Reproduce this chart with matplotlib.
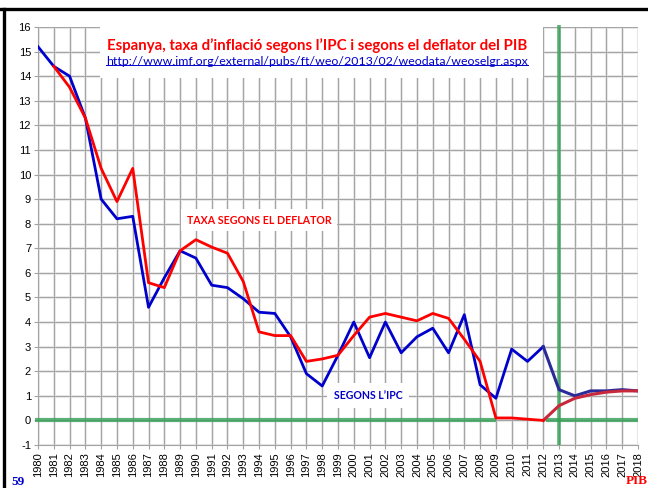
import matplotlib
matplotlib.use('Agg')
import matplotlib.pyplot as plt
from matplotlib.patches import Rectangle
from matplotlib.lines import Line2D

# inflation data
years = list(range(1980, 2019))
ipc = [15.2, 14.4, 14.0, 12.3, 9.0, 8.2, 8.3, 4.6, 5.8, 6.9,
       6.6, 5.5, 5.4, 4.95, 4.4, 4.35, 3.4, 1.9, 1.4, 2.65,
       4.0, 2.55, 4.0, 2.75, 3.4, 3.75, 2.75, 4.3, 1.45, 0.9,
       2.9, 2.4, 3.0, 1.25, 1.0, 1.2, 1.2, 1.25, 1.2]
defl_years = list(range(1981, 2019))
deflator = [14.4, 13.55, 12.3, 10.25, 8.9, 10.25, 5.6, 5.4, 6.9, 7.35,
            7.05, 6.8, 5.65, 3.6, 3.45, 3.45, 2.4, 2.5, 2.65, 3.45,
            4.2, 4.35, 4.2, 4.05, 4.35, 4.15, 3.3, 2.4, 0.1, 0.1,
            0.05, 0.0, 0.6, 0.9, 1.05, 1.15, 1.2, 1.2]
proj_start = 2012
y_ticks = list(range(-1, 17))

title = "Espanya, taxa d\u2019inflació segons l\u2019IPC i segons el deflator del PIB"
url = "http://www.imf.org/external/pubs/ft/weo/2013/02/weodata/weoselgr.aspx"

BLUE = '#0000cc'
RED = '#ff0000'
GREEN = '#34a055'
GRID = '#a3a3a3'

fig = plt.figure(figsize=(6.48, 4.88), dpi=100)
ax = fig.add_axes([38 / 648, 1 - 445 / 488, 600 / 648, 418 / 488])

ax.set_xlim(1980, 2018)
ax.set_ylim(-1, 16)

# soft grid band + thin darker grid line on top
ax.grid(True, color='#e8e8e8', lw=2.2, zorder=0)
ax.vlines(years, -1, 16, color=GRID, lw=0.7, zorder=1)
ax.hlines(y_ticks, 1980, 2018, color=GRID, lw=0.7, zorder=1)
ax.set_axisbelow(True)

for s in ['top', 'right']:
    ax.spines[s].set_visible(False)
for s in ['left', 'bottom']:
    ax.spines[s].set_color(GRID)
    ax.spines[s].set_linewidth(0.8)

ax.set_xticks(years)
ax.set_xticklabels([str(y) for y in years], rotation=90,
                   fontsize=8, family='Liberation Sans')
ax.set_yticks(y_ticks)
ax.set_yticklabels([str(v) for v in y_ticks], fontsize=8, family='Liberation Sans')
ax.tick_params(length=3, color=GRID, width=0.8, pad=2)

# green reference lines
ax.plot([1979.8, 2009.0], [0, 0], color=GREEN, lw=3, alpha=0.8,
        solid_capstyle='butt', zorder=3, clip_on=False)
ax.plot([2012.2, 2018], [0, 0], color=GREEN, lw=3, alpha=0.8,
        solid_capstyle='butt', zorder=3)
ax.plot([2013, 2013], [-1, 16.1], color=GREEN, lw=2.6, alpha=0.8,
        solid_capstyle='butt', zorder=3, clip_on=False)

# series (projection part drawn a bit darker)
n_ipc = years.index(proj_start) + 1
n_def = defl_years.index(proj_start) + 1
ax.plot(years[:n_ipc], ipc[:n_ipc], color=BLUE, lw=2, zorder=5)
ax.plot(years[n_ipc - 1:], ipc[n_ipc - 1:], color='#2a2a9a', lw=2.2, zorder=5)
ax.plot(defl_years[:n_def], deflator[:n_def], color=RED, lw=2, zorder=6)
ax.plot(defl_years[n_def - 1:], deflator[n_def - 1:], color='#c8283c', lw=2.2, zorder=5)

# title box
ax.add_patch(Rectangle((0.1033, 0.878), 0.7384, 0.122, transform=ax.transAxes,
                       facecolor='white', edgecolor='none', zorder=4))
ax.text(0.465, 0.9545, title, transform=ax.transAxes, ha='center', va='center',
        color=RED, fontsize=10.8, fontweight='bold', family='Lato', zorder=7)
url_txt = ax.text(0.465, 0.918, url, transform=ax.transAxes, ha='center',
                  va='center', color=BLUE, fontsize=8.9, family='Lato', zorder=7)

ax.text(1994.0, 8.15, 'TAXA SEGONS EL DEFLATOR', ha='center', va='center',
        color=RED, fontsize=7.7, fontweight='bold', family='Lato', zorder=7,
        bbox=dict(facecolor='white', edgecolor='none', pad=4))
ax.text(2000.9, 1.0, 'SEGONS L\u2019IPC', ha='center', va='center',
        color=BLUE, fontsize=7.6, fontweight='bold', family='Lato', zorder=7,
        bbox=dict(facecolor='white', edgecolor='none', pad=5))

fig.text(18 / 648, 1 - 482 / 488, '59', ha='center', va='center', color=BLUE,
         fontsize=9.5, fontweight='bold', family='Liberation Serif')
fig.text(637 / 648, 1 - 481 / 488, 'PIB', ha='center', va='center', color=RED,
         fontsize=9.5, fontweight='bold', family='Liberation Serif')

# page frame: thick black line at top and left
fig.add_artist(Line2D([0, 1], [1 - 9 / 488] * 2, color='black', lw=2.4,
                      transform=fig.transFigure))
fig.add_artist(Line2D([4 / 648] * 2, [0, 1 - 9 / 488], color='black', lw=2.4,
                      transform=fig.transFigure))

# underline the url
fig.canvas.draw()
bb = url_txt.get_window_extent().transformed(fig.transFigure.inverted())
fig.add_artist(Line2D([bb.x0, bb.x1], [bb.y0 + 0.004] * 2, color=BLUE, lw=0.7,
                      transform=fig.transFigure))

fig.savefig('out.png', dpi=100)
